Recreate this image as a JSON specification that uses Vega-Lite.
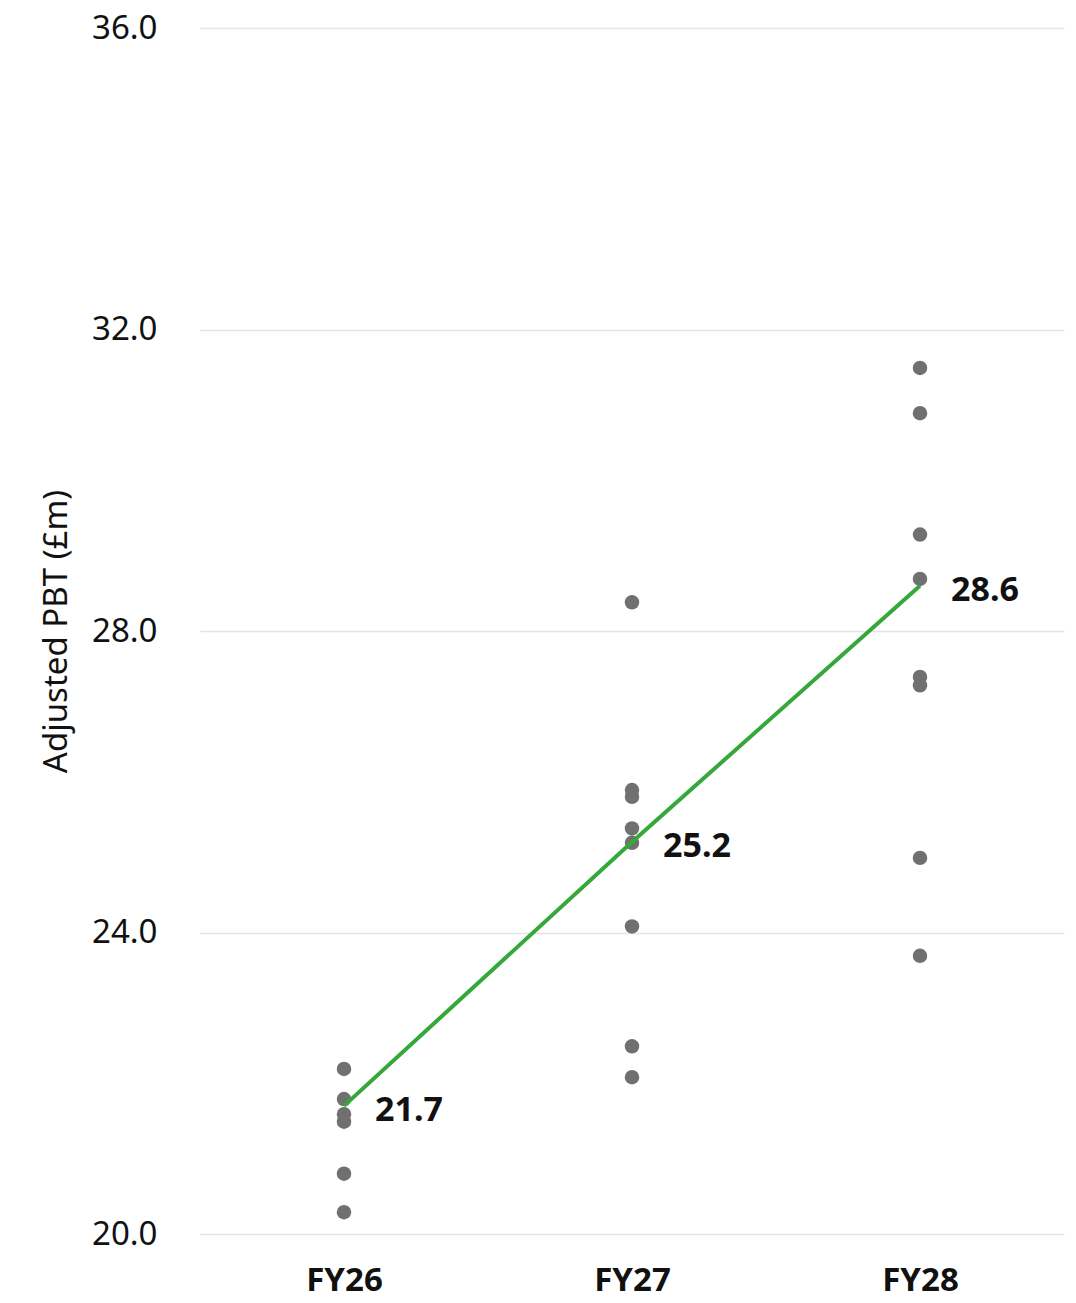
{
  "$schema": "https://vega.github.io/schema/vega-lite/v6.json",
  "autosize": {"type": "none"},
  "width": 864,
  "height": 1206,
  "padding": {"left": 200, "top": 28, "right": 12, "bottom": 69},
  "background": "#ffffff",
  "config": {
    "font": "Noto Sans",
    "view": {"stroke": null},
    "axis": {"labelColor": "#111111", "titleColor": "#111111"}
  },
  "datasets": {
    "estimates": [
      {"year": "FY26", "pbt": 22.19},
      {"year": "FY26", "pbt": 21.79},
      {"year": "FY26", "pbt": 21.59},
      {"year": "FY26", "pbt": 21.49},
      {"year": "FY26", "pbt": 20.8},
      {"year": "FY26", "pbt": 20.29},
      {"year": "FY27", "pbt": 28.38},
      {"year": "FY27", "pbt": 25.89},
      {"year": "FY27", "pbt": 25.8},
      {"year": "FY27", "pbt": 25.38},
      {"year": "FY27", "pbt": 25.19},
      {"year": "FY27", "pbt": 24.08},
      {"year": "FY27", "pbt": 22.49},
      {"year": "FY27", "pbt": 22.08},
      {"year": "FY28", "pbt": 31.49},
      {"year": "FY28", "pbt": 30.89},
      {"year": "FY28", "pbt": 29.28},
      {"year": "FY28", "pbt": 28.69},
      {"year": "FY28", "pbt": 27.39},
      {"year": "FY28", "pbt": 27.28},
      {"year": "FY28", "pbt": 24.99},
      {"year": "FY28", "pbt": 23.69}
    ],
    "consensus": [
      {"year": "FY26", "pbt": 21.7},
      {"year": "FY27", "pbt": 25.2},
      {"year": "FY28", "pbt": 28.6}
    ]
  },
  "encoding": {
    "x": {
      "field": "year",
      "type": "ordinal",
      "scale": {"type": "point", "padding": 0.5},
      "axis": {
        "title": null,
        "labelAngle": 0,
        "labelFontSize": 33,
        "labelFontWeight": "bold",
        "labelPadding": 30,
        "ticks": false,
        "domain": false,
        "grid": false
      }
    },
    "y": {
      "field": "pbt",
      "type": "quantitative",
      "scale": {"domain": [20, 36], "nice": false, "zero": false},
      "axis": {
        "title": "Adjusted PBT (£m)",
        "titleFontSize": 33,
        "titleFontWeight": "normal",
        "titlePadding": 18,
        "values": [20, 24, 28, 32, 36],
        "format": ".1f",
        "labelFontSize": 33,
        "labelPadding": 43,
        "ticks": false,
        "domain": false,
        "grid": true,
        "gridColor": "#e4e4e4",
        "gridWidth": 1.5
      }
    }
  },
  "layer": [
    {
      "data": {"name": "estimates"},
      "mark": {"type": "circle", "size": 210, "color": "#707070", "opacity": 1}
    },
    {
      "data": {"name": "consensus"},
      "mark": {"type": "line", "color": "#34a83a", "strokeWidth": 4},
      "encoding": {}
    },
    {
      "data": {"name": "consensus"},
      "mark": {
        "type": "text",
        "align": "left",
        "baseline": "middle",
        "dx": 31,
        "dy": 5,
        "fontSize": 34,
        "fontWeight": "bold",
        "color": "#111111"
      },
      "encoding": {"text": {"field": "pbt", "type": "quantitative", "format": ".1f"}}
    }
  ]
}
